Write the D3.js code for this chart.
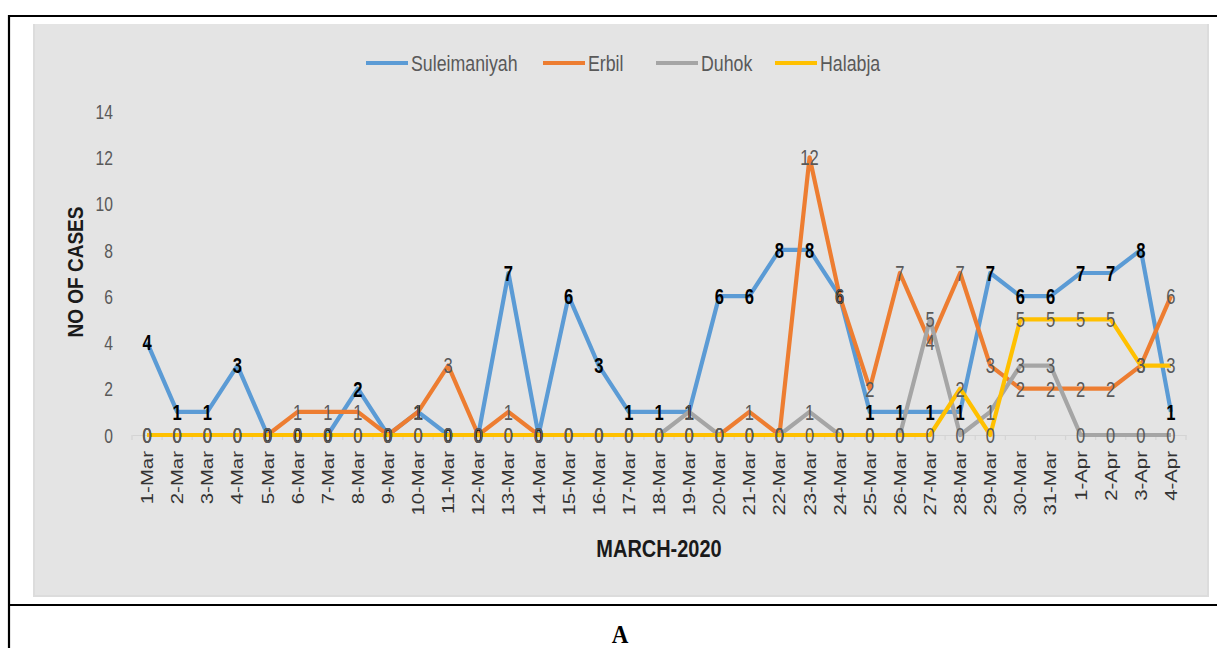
<!DOCTYPE html>
<html>
<head>
<meta charset="utf-8">
<script src="https://cdn.jsdelivr.net/npm/d3@7"></script>
<style>
  html, body { margin: 0; padding: 0; background: #fff; }
  svg { display: block; }
</style>
</head>
<body>
<svg id="chart" width="1217" height="648"></svg>
<script>
// Daily new cases by governorate, 1 March – 4 April 2020
const dates = ["1-Mar","2-Mar","3-Mar","4-Mar","5-Mar","6-Mar","7-Mar","8-Mar","9-Mar","10-Mar",
  "11-Mar","12-Mar","13-Mar","14-Mar","15-Mar","16-Mar","17-Mar","18-Mar","19-Mar","20-Mar",
  "21-Mar","22-Mar","23-Mar","24-Mar","25-Mar","26-Mar","27-Mar","28-Mar","29-Mar","30-Mar",
  "31-Mar","1-Apr","2-Apr","3-Apr","4-Apr"];

const suleimaniyah = [4,1,1,3,0,0,0,2,0,1,0,0,7,0,6,3,1,1,1,6,6,8,8,6,1,1,1,1,7,6,6,7,7,8,1];
const erbil        = [0,0,0,0,0,1,1,1,0,1,3,0,1,0,0,0,0,0,0,0,1,0,12,6,2,7,4,7,3,2,2,2,2,3,6];
const duhok        = [0,0,0,0,0,0,0,0,0,0,0,0,0,0,0,0,0,0,1,0,0,0,1,0,0,0,5,0,1,3,3,0,0,0,0];
const halabja      = [0,0,0,0,0,0,0,0,0,0,0,0,0,0,0,0,0,0,0,0,0,0,0,0,0,0,0,2,0,5,5,5,5,3,3];

const yTicks = [0,2,4,6,8,10,12,14];

const seriesList = [
  { name: "Suleimaniyah", values: suleimaniyah, color: "#5B9BD5", labelColor: "#000", bold: true },
  { name: "Erbil",        values: erbil,        color: "#ED7D31", labelColor: "#595959", bold: false },
  { name: "Duhok",        values: duhok,        color: "#A5A5A5", labelColor: "#595959", bold: false },
  { name: "Halabja",      values: halabja,      color: "#FFC000", labelColor: "#595959", bold: false }
];

const svg = d3.select("#chart");
const font = "'Liberation Sans', Arial, sans-serif";
// Text in this figure is drawn slightly condensed and tall
const SX = 0.92, SY = 1.22;

// Document frame
svg.append("rect").attr("x", 33).attr("y", 24).attr("width", 1176).attr("height", 573)
  .attr("fill", "#dcdcdc");
svg.append("rect").attr("x", 35).attr("y", 24).attr("width", 1172).attr("height", 571)
  .attr("fill", "#e4e4e4");
svg.append("line").attr("x1", 8).attr("x2", 1217).attr("y1", 16).attr("y2", 16)
  .attr("stroke", "#000").attr("stroke-width", 2.2);
svg.append("line").attr("x1", 9).attr("x2", 9).attr("y1", 15).attr("y2", 648)
  .attr("stroke", "#000").attr("stroke-width", 2.2);
svg.append("line").attr("x1", 8).attr("x2", 1217).attr("y1", 605).attr("y2", 605)
  .attr("stroke", "#000").attr("stroke-width", 2.2);
svg.append("text").attr("transform", "translate(620,643) scale(1,1.1)").attr("text-anchor", "middle")
  .attr("font-family", "'Liberation Serif', 'Times New Roman', serif")
  .attr("font-weight", "bold").attr("font-size", 23).attr("fill", "#000").text("A");

// Scales
const x = d3.scaleBand().domain(dates).range([132, 1186]);
const cx = d => x(d) + x.bandwidth() / 2;
const y = d3.scaleLinear().domain([0, 14]).range([435, 111]);

// Y axis labels (no axis line)
const yAxis = d3.axisLeft(y).tickValues(yTicks).tickSize(0).tickPadding(0);
const yg = svg.append("g").attr("transform", "translate(113,0)").call(yAxis);
yg.select(".domain").remove();
yg.selectAll(".tick text")
  .attr("transform", `scale(${SX},${SY})`)
  .attr("font-family", font).attr("font-size", 17)
  .attr("fill", "#595959").attr("dy", "0.35em");

// X axis: baseline with ticks between categories
const xAxis = d3.axisBottom(x).tickSizeInner(0).tickSizeOuter(0).tickFormat("");
const xg = svg.append("g").attr("transform", `translate(0,${y(0)})`).call(xAxis);
xg.select(".domain").attr("stroke", "#d4d4d4").attr("stroke-width", 1.2);
xg.selectAll(".tick").remove();
xg.selectAll(".sep").data(d3.range(dates.length + 1)).join("line")
  .attr("class", "sep")
  .attr("x1", i => 132 + i * x.step()).attr("x2", i => 132 + i * x.step())
  .attr("y1", 0).attr("y2", 5).attr("stroke", "#d4d4d4").attr("stroke-width", 1.2);

// Rotated category labels
svg.append("g").selectAll("text").data(dates).join("text")
  .attr("transform", d => `translate(${cx(d) + 6},451) rotate(-90) scale(1.2,1)`)
  .attr("text-anchor", "end")
  .attr("font-family", font).attr("font-size", 17).attr("fill", "#333")
  .text(d => d);

// Axis titles
svg.append("text").attr("transform", "translate(659,557) scale(0.95,1.1)").attr("text-anchor", "middle")
  .attr("font-family", font).attr("font-weight", "bold").attr("font-size", 21)
  .attr("fill", "#1a1a1a").text("MARCH-2020");
svg.append("text").attr("transform", "translate(83,272) rotate(-90) scale(0.95,1.1)")
  .attr("text-anchor", "middle")
  .attr("font-family", font).attr("font-weight", "bold").attr("font-size", 20)
  .attr("fill", "#1a1a1a").text("NO OF CASES");

// Lines
const line = d3.line().x((v, i) => cx(dates[i])).y(v => y(v));
svg.append("g").selectAll("path").data(seriesList).join("path")
  .attr("d", s => line(s.values))
  .attr("fill", "none").attr("stroke", s => s.color)
  .attr("stroke-width", 4.2).attr("stroke-linejoin", "round");

// Data labels centred on each point
seriesList.forEach(s => {
  svg.append("g").selectAll("text").data(s.values).join("text")
    .attr("transform", (v, i) => `translate(${cx(dates[i])},${y(v)}) scale(${SX},${SY})`)
    .attr("dy", "0.36em")
    .attr("text-anchor", "middle")
    .attr("font-family", font)
    .attr("font-size", 18)
    .attr("font-weight", s.bold ? "bold" : "normal")
    .attr("fill", s.labelColor)
    .text(v => v);
});

// Legend
const legendItems = [
  { s: seriesList[0], x: 366 },
  { s: seriesList[1], x: 543 },
  { s: seriesList[2], x: 656 },
  { s: seriesList[3], x: 775 }
];
const lg = svg.append("g");
legendItems.forEach(it => {
  lg.append("line").attr("x1", it.x).attr("x2", it.x + 42).attr("y1", 63).attr("y2", 63)
    .attr("stroke", it.s.color).attr("stroke-width", 4.2);
  lg.append("text").attr("transform", `translate(${it.x + 45},63) scale(0.96,${SY})`)
    .attr("dy", "0.36em")
    .attr("font-family", font).attr("font-size", 18.5).attr("fill", "#595959")
    .text(it.s.name);
});
</script>
</body>
</html>
